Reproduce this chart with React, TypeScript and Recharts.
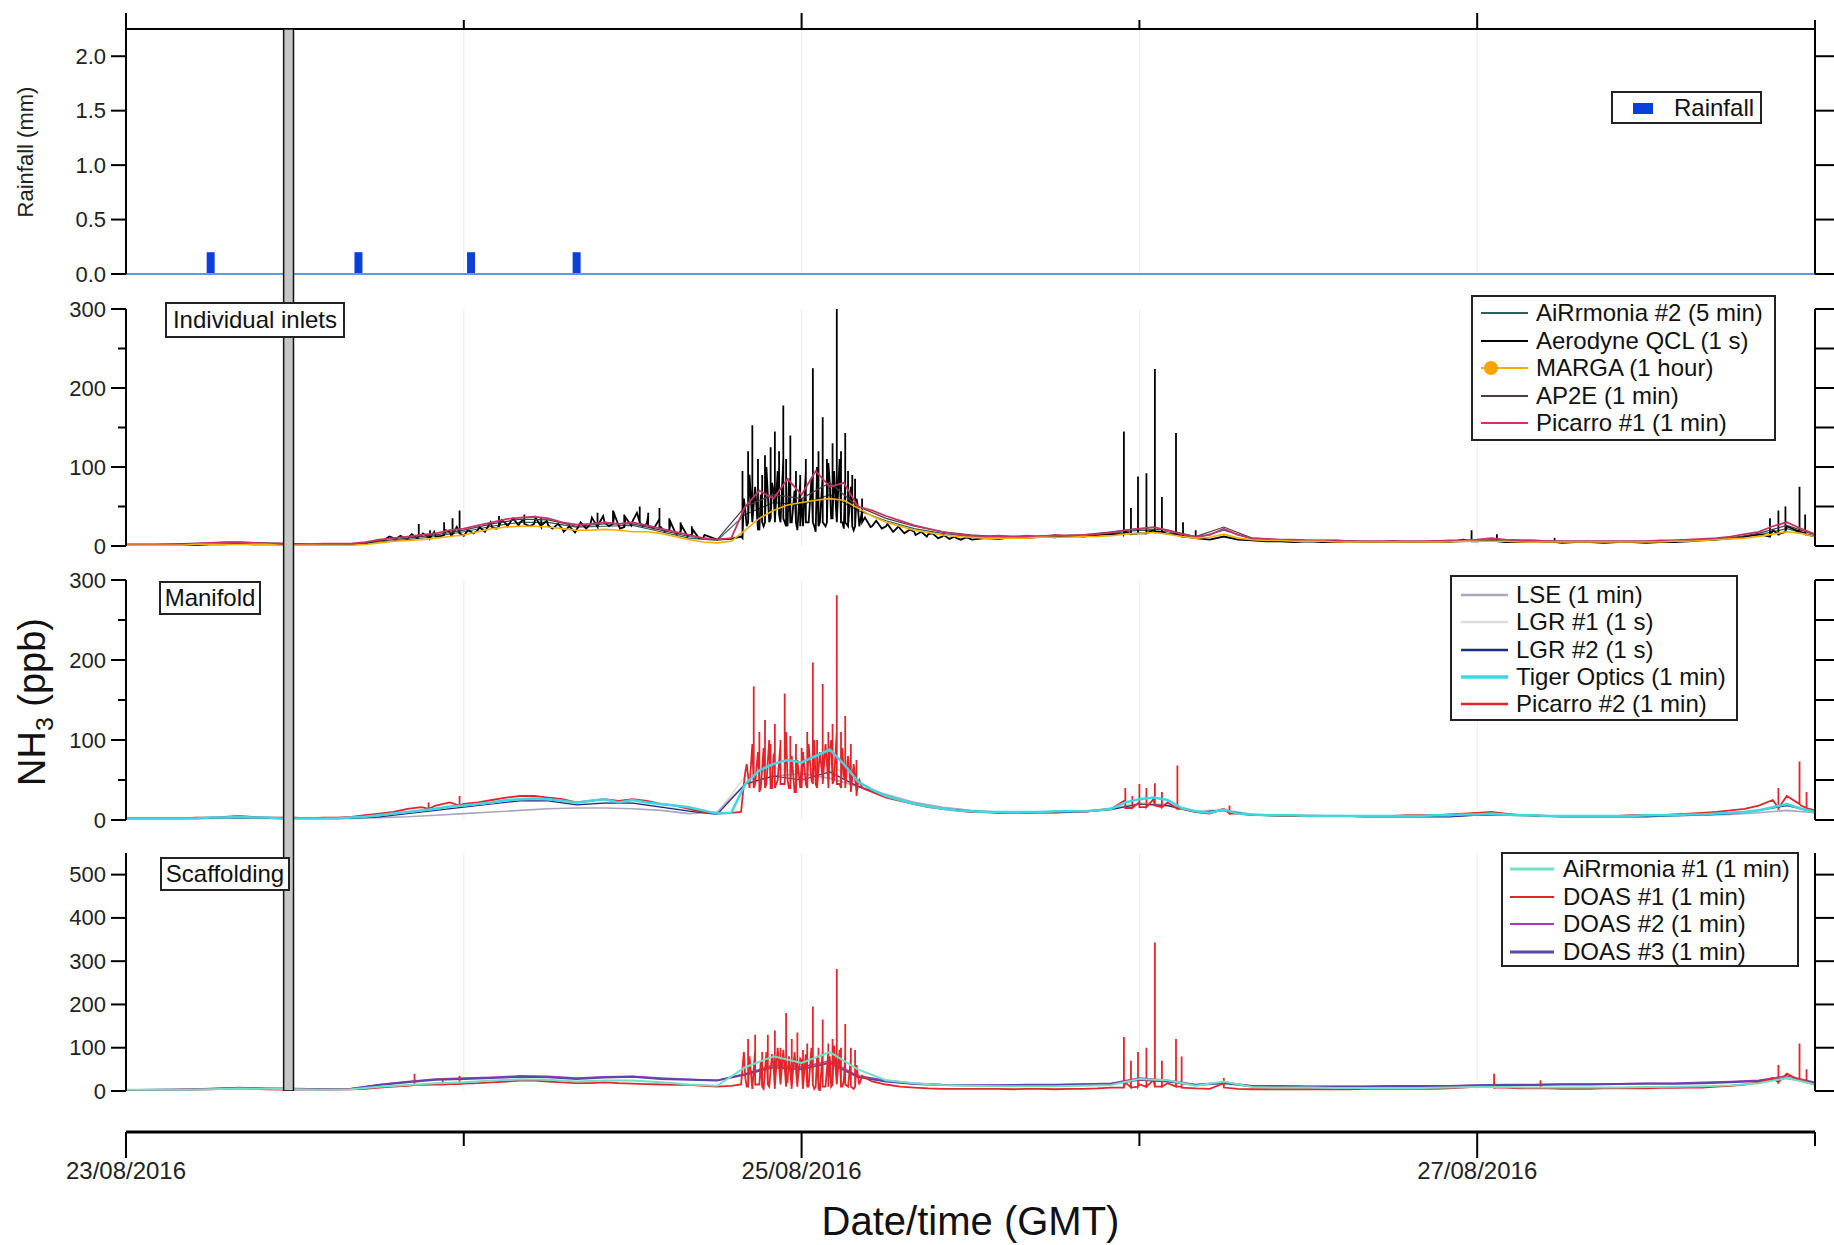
import React from 'react'
import {
  ComposedChart,
  Line,
  Bar,
  XAxis,
  YAxis,
  CartesianGrid,
  ReferenceArea,
  ReferenceLine,
} from 'recharts'

const FONT = '"Liberation Sans", Arial, Helvetica, sans-serif'
const WIDTH = 1834
const LEFT_MARGIN = 66
const AXIS_W = 60
const RIGHT_W = 19

// time axis: hours since 23/08/2016 00:00 GMT
const dayTicks = [0, 24, 48, 72, 96, 120]
const dayLabels = ['23/08/2016', '', '25/08/2016', '', '27/08/2016', '']
const hourly = Array.from({ length: 121 }, (_, i) => i)
const twoHourly = Array.from({ length: 61 }, (_, i) => i * 2)

// rainfall (mm)
const rainHours = [6, 16.5, 24.5, 32]
const rainMm = [0.2, 0.2, 0.2, 0.2]

// grey bar across all panels (hours)
const markedPeriod = [11.2, 11.9]

// ---- Individual inlets (ppb) ----
const aerodyneQcl = [
  1, 1, 1, 1, 1, 1, 2, 2, 3, 2,
  2, 2, 1, 1, 1, 1, 2, 3, 8, 10,
  9, 14, 12, 18, 13, 20, 24, 28, 30, 28,
  26, 22, 20, 28, 30, 26, 32, 28, 24, 18,
  14, 10, 8, 9, 45, 20, 70, 25, 60, 18,
  80, 22, 50, 25, 25, 22, 18, 15, 12, 10,
  9, 10, 9, 11, 10, 12, 11, 13, 12, 14,
  15, 18, 16, 20, 15, 12, 10, 8, 12, 8,
  7, 6, 6, 5, 6, 5, 5, 6, 5, 5,
  6, 5, 5, 6, 5, 8, 6, 7, 5, 5,
  6, 5, 4, 5, 5, 4, 5, 5, 4, 5,
  5, 6, 7, 8, 10, 12, 15, 20, 25, 18,
  12,
]
// fast readings in the busy periods
const aerodyneNoiseA = [
  7, 12, 8, 13, 9, 15, 10, 16, 11, 18,
  12, 20, 13, 24, 14, 20, 16, 24, 18, 30,
  22, 33, 25, 35, 26, 34, 25, 36, 24, 32,
  22, 28, 18, 25, 17, 30, 22, 36, 24, 38,
  25, 40, 22, 36, 26, 42, 25, 38, 22, 34,
  18, 30, 15, 25, 12, 20, 10, 14,
]
const aerodyneBurst = [
  12, 60, 25, 90, 30, 75, 20, 65, 25, 100,
  30, 80, 35, 95, 30, 110, 25, 85, 30, 70,
  20, 80, 25, 95, 30, 85, 25, 100, 30, 90,
  25, 105, 35, 95, 30, 110, 30, 85, 25, 75,
  20, 60, 25, 45,
]
const aerodyneNoiseB = [
  36, 24, 32, 22, 28, 18, 25, 16, 21, 14,
  18, 12, 16, 10, 14, 9, 12, 8, 11, 8,
]
// isolated spikes: [hour, base, peak]
const aerodyneSpikes: [number, number, number][] = [
  [20.8, 12, 28], [21.6, 10, 20], [22.6, 14, 30], [23.2, 15, 35], [23.7, 16, 45],
  [26.5, 25, 38], [28.3, 28, 40], [29.5, 26, 36], [33.5, 25, 42], [34.6, 28, 45],
  [35.4, 24, 40], [36.5, 30, 50], [37.1, 26, 42], [37.9, 24, 48], [38.6, 20, 35],
  [39.4, 18, 30], [40.2, 14, 25],
  [43.8, 10, 95], [44.2, 30, 120], [44.5, 30, 153], [44.9, 25, 110], [45.2, 30, 90],
  [45.4, 30, 115], [45.8, 35, 125], [46.1, 30, 145], [46.4, 40, 120], [46.7, 35, 178],
  [46.9, 30, 110], [47.2, 30, 140], [47.6, 30, 95], [47.9, 25, 90], [48.3, 30, 110],
  [48.8, 30, 225], [49.2, 25, 120], [49.5, 30, 163], [49.8, 30, 110], [50.2, 35, 130],
  [50.5, 30, 300], [50.8, 30, 120], [51.1, 30, 143], [51.3, 25, 95], [51.6, 25, 90],
  [51.8, 25, 85], [52.3, 30, 60],
  [70.9, 15, 145], [71.4, 15, 48], [71.9, 16, 88], [72.5, 16, 92], [73.1, 18, 224],
  [73.6, 18, 62], [74.6, 15, 143], [75.1, 12, 30], [76.0, 10, 20],
  [95.6, 6, 20], [97.4, 6, 15], [101.5, 5, 10],
  [116.8, 12, 35], [117.4, 15, 45], [117.9, 18, 50], [118.9, 18, 75], [119.3, 15, 40],
]
const picarro1 = [
  2, 2, 2, 2, 2, 3, 4, 5, 5, 4,
  3, 3, 2, 2, 3, 3, 3, 5, 8, 10,
  12, 14, 16, 20, 22, 26, 30, 34, 36, 37,
  35, 30, 27, 28, 30, 28, 30, 26, 22, 18,
  14, 10, 8, 10, 50, 70, 60, 85, 65, 95,
  75, 80, 50, 45, 38, 32, 26, 22, 18, 15,
  13, 12, 13, 12, 13, 12, 14, 13, 14, 15,
  17, 20, 22, 24, 20, 15, 12, 14, 22, 14,
  10, 9, 8, 8, 7, 7, 7, 6, 6, 6,
  6, 6, 6, 6, 7, 7, 8, 10, 8, 7,
  7, 6, 6, 6, 6, 6, 6, 6, 6, 7,
  7, 8, 9, 10, 12, 15, 18, 25, 30, 22,
  15,
]
const marga = [
  1, 1, 1, 1, 1, 2, 2, 2, 2, 2,
  2, 1, 1, 1, 1, 1, 1, 2, 4, 6,
  7, 8, 10, 12, 14, 18, 22, 24, 25, 25,
  24, 22, 20, 20, 21, 20, 18, 18, 16, 12,
  8, 5, 4, 6, 20, 35, 45, 52, 55, 58,
  60, 58, 48, 38, 30, 25, 20, 17, 14, 12,
  11, 10, 10, 10, 10, 11, 11, 11, 12, 12,
  13, 15, 16, 17, 15, 12, 10, 11, 15, 10,
  8, 7, 7, 6, 6, 6, 5, 5, 5, 5,
  5, 5, 5, 5, 5, 6, 6, 6, 6, 5,
  5, 5, 5, 5, 5, 5, 5, 5, 5, 5,
  6, 6, 7, 8, 9, 10, 12, 15, 18, 16,
  12,
]
const airrmonia2 = [
  1, 1, 2, 3, 4, 3, 2, 2, 2, 5,
  8, 12, 18, 25, 30, 30, 24, 25, 26, 18,
  10, 7, 40, 55, 52, 65, 45, 32, 22, 16,
  12, 11, 11, 12, 12, 16, 20, 18, 10, 20,
  9, 7, 6, 6, 5, 5, 5, 5, 6, 7,
  6, 5, 5, 5, 5, 6, 7, 9, 14, 22,
  12,
]
const ap2e = [
  2, 2, 3, 4, 5, 4, 3, 2, 3, 6,
  10, 14, 20, 28, 34, 33, 25, 28, 28, 20,
  12, 8, 50, 65, 60, 80, 50, 35, 25, 18,
  14, 12, 12, 13, 14, 18, 22, 20, 12, 24,
  10, 8, 7, 7, 6, 6, 6, 6, 7, 8,
  7, 6, 6, 6, 6, 7, 8, 10, 16, 26,
  14,
]

// ---- Manifold (ppb) ----
const picarro2 = [
  2, 2, 2, 2, 2, 3, 3, 4, 5, 4,
  3, 3, 3, 2, 3, 3, 4, 6, 8, 10,
  14, 16, 18, 22, 20, 22, 25, 28, 30, 30,
  28, 26, 22, 24, 26, 24, 26, 24, 20, 18,
  14, 10, 8, 9, 60, 45, 80, 50, 70, 45,
  85, 55, 45, 35, 28, 24, 20, 16, 14, 12,
  10, 10, 9, 10, 9, 10, 10, 11, 10, 12,
  14, 25, 22, 26, 22, 14, 10, 8, 14, 8,
  6, 6, 5, 5, 5, 5, 5, 5, 5, 5,
  5, 6, 6, 6, 7, 8, 9, 10, 8, 6,
  6, 5, 5, 5, 5, 5, 5, 6, 6, 6,
  7, 8, 9, 10, 12, 14, 18, 25, 30, 18,
  12,
]
const picarro2Burst = [
  10, 45, 70, 40, 95, 45, 85, 40, 90, 45,
  100, 40, 85, 50, 95, 45, 110, 40, 80, 35,
  75, 40, 85, 45, 95, 50, 100, 40, 85, 50,
  95, 45, 100, 50, 110, 45, 90, 50, 80, 40,
  70, 35, 50, 40,
]
const picarro2Spikes: [number, number, number][] = [
  [21.5, 14, 22], [23.7, 18, 30],
  [44.6, 40, 167], [45.0, 35, 110], [45.4, 40, 125], [45.8, 40, 95], [46.1, 40, 120],
  [46.5, 45, 100], [46.8, 45, 158], [47.2, 40, 105], [47.6, 35, 95], [48.0, 40, 90],
  [48.4, 40, 110], [48.8, 45, 197], [49.1, 40, 100], [49.5, 45, 170], [49.9, 40, 110],
  [50.2, 45, 120], [50.5, 45, 281], [50.8, 40, 110], [51.1, 40, 130], [51.5, 35, 95],
  [51.9, 30, 75],
  [71.0, 15, 40], [71.5, 15, 30], [72.0, 16, 45], [72.5, 16, 40], [73.1, 18, 46],
  [73.6, 16, 35], [74.7, 14, 68], [78.4, 8, 18],
  [117.4, 15, 40], [118.9, 20, 73], [119.4, 15, 35],
]
const tigerOptics = [
  2, 2, 2, 2, 2, 2, 3, 3, 4, 3,
  3, 2, 2, 2, 2, 2, 3, 4, 6, 8,
  10, 12, 14, 17, 18, 20, 22, 25, 26, 27,
  26, 24, 22, 24, 26, 22, 25, 22, 20, 18,
  16, 12, 8, 9, 45, 62, 70, 75, 72, 80,
  88, 70, 48, 38, 30, 25, 20, 17, 14, 12,
  11, 10, 10, 10, 10, 10, 11, 11, 11, 12,
  14, 22, 26, 28, 25, 15, 11, 9, 13, 8,
  7, 6, 6, 6, 5, 5, 5, 5, 5, 5,
  5, 5, 5, 6, 6, 7, 7, 8, 7, 6,
  6, 5, 5, 5, 5, 5, 5, 5, 6, 6,
  6, 7, 7, 8, 9, 10, 12, 16, 20, 14,
  10,
]
const lse = [
  2, 2, 2, 2, 3, 2, 2, 2, 2, 3,
  4, 6, 8, 10, 12, 14, 15, 15, 14, 12,
  8, 10, 45, 55, 58, 52, 42, 32, 22, 16,
  12, 10, 10, 10, 11, 14, 20, 18, 10, 12,
  7, 6, 6, 5, 5, 5, 5, 5, 6, 6,
  5, 5, 5, 5, 5, 6, 6, 7, 9, 12,
  9,
]
const lgr1 = [
  3, 3, 3, 3, 4, 3, 3, 3, 3, 5,
  10, 15, 18, 22, 26, 25, 20, 22, 22, 17,
  12, 8, 55, 65, 60, 70, 45, 32, 22, 16,
  12, 10, 10, 10, 11, 15, 22, 20, 11, 14,
  7, 6, 6, 6, 5, 5, 5, 5, 7, 8,
  6, 5, 5, 5, 5, 6, 7, 9, 13, 20,
  11,
]
const lgr2 = [
  2, 2, 2, 2, 3, 2, 2, 2, 2, 4,
  8, 12, 16, 20, 24, 24, 19, 21, 21, 16,
  11, 7, 45, 55, 50, 60, 42, 30, 20, 14,
  11, 9, 9, 9, 10, 13, 20, 18, 10, 12,
  6, 5, 5, 5, 4, 4, 4, 4, 6, 7,
  5, 4, 4, 4, 4, 5, 6, 8, 12, 18,
  10,
]

// ---- Scaffolding (ppb) ----
const doas1 = [
  2, 2, 2, 2, 3, 3, 4, 5, 6, 5,
  4, 3, 3, 3, 3, 3, 4, 5, 8, 10,
  12, 14, 15, 16, 17, 18, 20, 22, 24, 24,
  22, 20, 18, 18, 20, 18, 17, 16, 15, 14,
  14, 12, 10, 12, 30, 15, 60, 20, 70, 10,
  80, 25, 35, 22, 15, 10, 8, 6, 5, 5,
  5, 5, 5, 4, 5, 5, 4, 5, 5, 6,
  8, 20, 15, 25, 18, 10, 6, 5, 18, 5,
  4, 4, 4, 4, 4, 4, 4, 4, 5, 5,
  5, 5, 5, 5, 6, 8, 10, 12, 8, 6,
  6, 6, 5, 5, 5, 6, 6, 6, 6, 7,
  7, 8, 8, 10, 12, 15, 20, 30, 40, 25,
  15,
]
const doas1Burst = [
  15, 90, 10, 80, 5, 95, 15, 70, 5, 90,
  10, 85, 5, 100, 15, 95, 10, 80, 5, 90,
  10, 75, 5, 85, 10, 100, 5, 80, 0, 95,
  10, 90, 10, 105, 15, 95, 10, 85, 10, 75,
  5, 60, 15, 35,
]
const doas1Spikes: [number, number, number][] = [
  [20.5, 14, 40], [22.5, 15, 30], [23.7, 16, 35],
  [44.2, 10, 120], [44.7, 15, 130], [45.2, 10, 90], [45.6, 15, 130], [46.1, 10, 140],
  [46.5, 15, 100], [46.9, 20, 180], [47.3, 10, 120], [47.7, 15, 135], [48.1, 10, 95],
  [48.4, 10, 110], [48.8, 15, 195], [49.2, 5, 100], [49.5, 10, 165], [49.9, 10, 110],
  [50.2, 15, 120], [50.5, 15, 282], [50.8, 10, 100], [51.1, 15, 155], [51.5, 10, 100],
  [51.8, 10, 95],
  [70.9, 8, 125], [71.4, 8, 70], [71.9, 10, 90], [72.5, 10, 100], [73.1, 10, 343],
  [73.6, 10, 70], [74.6, 10, 120], [75.0, 8, 80], [78.0, 8, 30],
  [97.2, 8, 40], [100.5, 6, 25],
  [117.4, 20, 60], [118.9, 25, 110], [119.4, 20, 50],
]
const airrmonia1 = [
  3, 3, 3, 4, 6, 5, 4, 3, 4, 10,
  14, 18, 20, 24, 27, 26, 22, 24, 24, 20,
  15, 12, 55, 80, 65, 90, 50, 25, 18, 14,
  12, 11, 11, 11, 12, 14, 28, 25, 12, 22,
  9, 8, 8, 7, 7, 7, 7, 8, 9, 9,
  8, 8, 8, 8, 9, 10, 11, 13, 18, 30,
  15,
]
const doas2 = [
  3, 3, 4, 5, 8, 6, 5, 4, 5, 15,
  22, 28, 30, 32, 35, 34, 30, 33, 34, 30,
  27, 25, 40, 60, 55, 70, 35, 25, 18, 15,
  14, 14, 15, 15, 16, 18, 30, 25, 15, 20,
  12, 12, 11, 11, 11, 12, 12, 12, 14, 15,
  15, 16, 16, 17, 18, 18, 20, 22, 25, 35,
  20,
]
const doas3 = [
  2, 3, 3, 5, 7, 6, 5, 4, 5, 14,
  20, 26, 28, 30, 33, 32, 28, 31, 33, 28,
  26, 24, 38, 55, 50, 65, 32, 22, 16, 14,
  13, 13, 14, 14, 15, 16, 26, 22, 14, 18,
  11, 11, 10, 10, 10, 11, 11, 11, 13, 14,
  14, 15, 15, 16, 17, 17, 18, 20, 23, 30,
  18,
]

const COLORS = {
  rain: '#0b3fd9',
  rainLine: '#5b9be0',
  airrmonia2: '#2c5f5d',
  aerodyne: '#000000',
  marga: '#f2b000',
  margaDot: '#f5a300',
  ap2e: '#4a3a4a',
  picarro1: '#c8346a',
  lse: '#a9a6bd',
  lgr1: '#dcdcdc',
  lgr2: '#1c2a8a',
  tiger: '#3fd6e0',
  picarro2: '#e3242b',
  airrmonia1: '#72e0c4',
  doas1: '#e3262a',
  doas2: '#a43cc0',
  doas3: '#5a46a8',
}

type Pt = { t: number; v: number }
type Burst = [number, number, number[]]

const toPoints = (times: number[], values: number[]): Pt[] =>
  times.map((t, i) => ({ t, v: values[i] }))

// merge the hourly base with faster readings and isolated spikes
const merged = (times: number[], values: number[], bursts: Burst[], spikes: [number, number, number][]) => {
  const pts = toPoints(times, values)
  bursts.forEach(([start, step, vals]) =>
    vals.forEach((v, i) => pts.push({ t: +(start + i * step).toFixed(2), v })))
  spikes.forEach(([t, lo, hi]) => pts.push({ t, v: lo }, { t, v: hi }, { t, v: lo }))
  return pts.sort((a, b) => a.t - b.t)
}

const rainData = toPoints(rainHours, rainMm)

const leftTick = (majorEvery: number, fmt: (v: number) => string) => (p: any) => {
  const v = p.payload.value
  const q = v / majorEvery
  const major = Math.abs(q - Math.round(q)) < 1e-6
  const len = major ? 15 : 8
  return (
    <g>
      <line x1={p.x - len} x2={p.x} y1={p.y} y2={p.y} stroke="#000" strokeWidth={2} />
      {major && (
        <text x={p.x - 20} y={p.y} textAnchor="end" dominantBaseline="central"
          fontSize={22} fontFamily={FONT} fill="#222">
          {fmt(v)}
        </text>
      )}
    </g>
  )
}

const rightTick = (p: any) => (
  <line x1={p.x} x2={p.x + RIGHT_W} y1={p.y} y2={p.y} stroke="#000" strokeWidth={2} />
)

const isMajorDay = (v: number) => v % 48 === 0

const topTick = (p: any) => (
  <line x1={p.x} x2={p.x} y1={p.y} y2={p.y - (isMajorDay(p.payload.value) ? 16 : 9)}
    stroke="#000" strokeWidth={2} />
)

const bottomTick = (p: any) => {
  const v = p.payload.value
  const label = dayLabels[dayTicks.indexOf(v)]
  return (
    <g>
      <line x1={p.x} x2={p.x} y1={p.y} y2={p.y + (isMajorDay(v) ? 26 : 14)} stroke="#000" strokeWidth={2} />
      {label && (
        <text x={p.x} y={p.y + 38} textAnchor="middle" dominantBaseline="central"
          fontSize={24} fontFamily={FONT} fill="#222">
          {label}
        </text>
      )}
    </g>
  )
}

function Panel({ top, bottom, domain, ticks, majorEvery, fmt, rightTicks, data, topAxis, children }: any) {
  const pad = 30
  const axisH = topAxis ? 22 : 0
  const h = bottom - top + 2 * pad
  return (
    <div style={{ position: 'absolute', left: 0, top: top - pad }}>
      <ComposedChart width={WIDTH} height={h} data={data}
        margin={{ top: pad - axisH, right: 0, bottom: pad, left: LEFT_MARGIN }}>
        <CartesianGrid horizontal={false} stroke="#ececec" />
        <XAxis type="number" dataKey="t" domain={[0, 120]} ticks={dayTicks} interval={0}
          allowDataOverflow orientation="top" hide={!topAxis} height={topAxis ? axisH : undefined}
          tickSize={0} tickMargin={0} tickLine={false} tick={topTick}
          axisLine={{ stroke: '#000', strokeWidth: 2 }} />
        <YAxis domain={domain} ticks={ticks} interval={0} allowDataOverflow width={AXIS_W}
          tickSize={0} tickMargin={0} tickLine={false} tick={leftTick(majorEvery, fmt)}
          axisLine={{ stroke: '#000', strokeWidth: 2 }} />
        <YAxis yAxisId="r" orientation="right" domain={domain} ticks={rightTicks} interval={0}
          allowDataOverflow width={RIGHT_W} tickSize={0} tickMargin={0} tickLine={false}
          tick={rightTick} axisLine={{ stroke: '#000', strokeWidth: 2 }} />
        {children}
      </ComposedChart>
    </div>
  )
}

function LegendBox({ left, top, width, height, items, firstRow, rowGap, sampleLeft, sampleWidth, textLeft }: any) {
  return (
    <div style={{
      position: 'absolute', left, top, width, height, border: '2px solid #222',
      background: '#fff', boxSizing: 'border-box', fontFamily: FONT, fontSize: 24, color: '#111',
    }}>
      {items.map((it: any, i: number) => (
        <div key={it.name} style={{ position: 'absolute', left: 0, top: firstRow + i * rowGap - 16, height: 32, width: '100%' }}>
          <svg width={sampleWidth} height={32} style={{ position: 'absolute', left: sampleLeft, top: 0 }}>
            <line x1={0} x2={sampleWidth} y1={16} y2={16} stroke={it.color} strokeWidth={it.w} />
            {it.dot && <circle cx={10} cy={16} r={7} fill={it.dot} />}
          </svg>
          <span style={{ position: 'absolute', left: textLeft, top: 0, lineHeight: '32px', whiteSpace: 'nowrap' }}>
            {it.name}
          </span>
        </div>
      ))}
    </div>
  )
}

function TagBox({ left, top, width, height, text }: any) {
  return (
    <div style={{
      position: 'absolute', left, top, width, height, border: '2px solid #222', background: '#fff',
      boxSizing: 'border-box', fontFamily: FONT, fontSize: 24, color: '#111', textAlign: 'center',
      lineHeight: `${height - 4}px`, whiteSpace: 'nowrap',
    }}>
      {text}
    </div>
  )
}

const inletsLegend = [
  { name: 'AiRrmonia #2 (5 min)', color: COLORS.airrmonia2, w: 2 },
  { name: 'Aerodyne QCL (1 s)', color: COLORS.aerodyne, w: 2 },
  { name: 'MARGA (1 hour)', color: COLORS.marga, w: 2, dot: COLORS.margaDot },
  { name: 'AP2E (1 min)', color: COLORS.ap2e, w: 2 },
  { name: 'Picarro #1 (1 min)', color: COLORS.picarro1, w: 2 },
]
const manifoldLegend = [
  { name: 'LSE (1 min)', color: COLORS.lse, w: 2.5 },
  { name: 'LGR #1 (1 s)', color: COLORS.lgr1, w: 2.5 },
  { name: 'LGR #2 (1 s)', color: COLORS.lgr2, w: 2.5 },
  { name: 'Tiger Optics (1 min)', color: COLORS.tiger, w: 3.5 },
  { name: 'Picarro #2 (1 min)', color: COLORS.picarro2, w: 2.5 },
]
const scaffoldLegend = [
  { name: 'AiRrmonia #1 (1 min)', color: COLORS.airrmonia1, w: 3 },
  { name: 'DOAS #1 (1 min)', color: COLORS.doas1, w: 2 },
  { name: 'DOAS #2 (1 min)', color: COLORS.doas2, w: 2 },
  { name: 'DOAS #3 (1 min)', color: COLORS.doas3, w: 3 },
]

const ppbTicks = [0, 50, 100, 150, 200, 250, 300]
const scaffoldTicks = [0, 100, 200, 300, 400, 500]
const rainTicks = [0, 0.5, 1, 1.5, 2]
const intFmt = (v: number) => String(v)

const series = (data: Pt[], color: string, width: number) => (
  <Line data={data} dataKey="v" type="linear" stroke={color} strokeWidth={width}
    dot={false} isAnimationActive={false} />
)

const aerodyneData = merged(hourly, aerodyneQcl, [
  [18.3, 0.4, aerodyneNoiseA],
  [43.7, 0.2, aerodyneBurst],
  [52.5, 0.4, aerodyneNoiseB],
], aerodyneSpikes)
const picarro2Data = merged(hourly, picarro2, [[43.7, 0.2, picarro2Burst]], picarro2Spikes)
const doas1Data = merged(hourly, doas1, [[43.7, 0.2, doas1Burst]], doas1Spikes)

export default function App() {
  return (
    <div style={{ position: 'absolute', left: 0, top: 0, width: WIDTH, height: 1245, background: '#fff', overflow: 'hidden' }}>
      <Panel top={29} bottom={274} domain={[0, 2.25]} ticks={rainTicks} majorEvery={0.5}
        fmt={(v: number) => v.toFixed(1)} rightTicks={rainTicks} data={rainData} topAxis>
        <ReferenceLine y={0} stroke={COLORS.rainLine} strokeWidth={2} />
        <Bar dataKey="v" fill={COLORS.rain} barSize={8} isAnimationActive={false} />
      </Panel>

      <Panel top={309} bottom={546} domain={[0, 300]} ticks={ppbTicks} majorEvery={100}
        fmt={intFmt} rightTicks={ppbTicks}>
        {series(toPoints(twoHourly, airrmonia2), COLORS.airrmonia2, 1.2)}
        {series(aerodyneData, COLORS.aerodyne, 1.8)}
        {series(toPoints(twoHourly, ap2e), COLORS.ap2e, 1.2)}
        {series(toPoints(hourly, picarro1), COLORS.picarro1, 1.8)}
        {series(toPoints(hourly, marga), COLORS.marga, 1.6)}
      </Panel>

      <Panel top={580} bottom={820} domain={[0, 300]} ticks={ppbTicks} majorEvery={100}
        fmt={intFmt} rightTicks={ppbTicks}>
        {series(toPoints(twoHourly, lgr1), COLORS.lgr1, 1.5)}
        {series(toPoints(twoHourly, lse), COLORS.lse, 1.6)}
        {series(toPoints(twoHourly, lgr2), COLORS.lgr2, 1.2)}
        {series(picarro2Data, COLORS.picarro2, 1.8)}
        {series(toPoints(hourly, tigerOptics), COLORS.tiger, 2.5)}
      </Panel>

      <Panel top={853} bottom={1091} domain={[0, 550]} ticks={scaffoldTicks} majorEvery={100}
        fmt={intFmt} rightTicks={scaffoldTicks}>
        {series(toPoints(twoHourly, doas2), COLORS.doas2, 1.5)}
        {series(toPoints(twoHourly, doas3), COLORS.doas3, 2)}
        {series(doas1Data, COLORS.doas1, 1.8)}
        {series(toPoints(twoHourly, airrmonia1), COLORS.airrmonia1, 2)}
      </Panel>

      {/* grey bar through all panels */}
      <div style={{ position: 'absolute', left: 0, top: 29 }}>
        <ComposedChart width={WIDTH} height={1091 - 29} data={rainData}
          margin={{ top: 0, right: RIGHT_W, bottom: 0, left: LEFT_MARGIN + AXIS_W }}>
          <XAxis type="number" dataKey="t" domain={[0, 120]} allowDataOverflow hide />
          <YAxis domain={[0, 1]} allowDataOverflow hide />
          <ReferenceArea x1={markedPeriod[0]} x2={markedPeriod[1]} fill="#c6c6c6" fillOpacity={1}
            stroke="#111" strokeWidth={1.5} />
        </ComposedChart>
      </div>

      {/* bottom time axis */}
      <div style={{ position: 'absolute', left: 0, top: 1132 - 10 }}>
        <ComposedChart width={WIDTH} height={10 + 113} data={rainData}
          margin={{ top: 0, right: RIGHT_W, bottom: 0, left: LEFT_MARGIN + AXIS_W }}>
          <XAxis type="number" dataKey="t" domain={[0, 120]} ticks={dayTicks} interval={0}
            allowDataOverflow height={113} tickSize={0} tickMargin={0} tickLine={false}
            tick={bottomTick} axisLine={{ stroke: '#000', strokeWidth: 3 }}
            label={{ value: 'Date/time (GMT)', position: 'insideBottom', offset: 10, fontSize: 40, fontFamily: FONT, fill: '#111' }} />
          <YAxis domain={[0, 1]} hide />
        </ComposedChart>
      </div>

      {/* axis titles */}
      <div style={{
        position: 'absolute', left: 26, top: 152, transform: 'translate(-50%, -50%) rotate(-90deg)',
        whiteSpace: 'nowrap', fontFamily: FONT, fontSize: 22, color: '#222',
      }}>
        Rainfall (mm)
      </div>
      <div style={{
        position: 'absolute', left: 35, top: 702, transform: 'translate(-50%, -50%) rotate(-90deg)',
        whiteSpace: 'nowrap', fontFamily: FONT, fontSize: 38, color: '#111',
      }}>
        NH<sub style={{ fontSize: '0.65em' }}>3</sub> (ppb)
      </div>

      {/* panel tags */}
      <TagBox left={165} top={302} width={180} height={36} text="Individual inlets" />
      <TagBox left={159} top={581} width={102} height={34} text="Manifold" />
      <TagBox left={160} top={857} width={130} height={34} text="Scaffolding" />

      {/* legends */}
      <div style={{
        position: 'absolute', left: 1611, top: 91, width: 151, height: 33, border: '2px solid #222',
        background: '#fff', boxSizing: 'border-box', fontFamily: FONT, fontSize: 24, color: '#111',
      }}>
        <div style={{ position: 'absolute', left: 20, top: 10, width: 20, height: 11, background: COLORS.rain }} />
        <span style={{ position: 'absolute', left: 61, top: 0, lineHeight: '29px' }}>Rainfall</span>
      </div>
      <LegendBox left={1471} top={295} width={305} height={146} items={inletsLegend}
        firstRow={16} rowGap={27.5} sampleLeft={8} sampleWidth={47} textLeft={63} />
      <LegendBox left={1450} top={575} width={288} height={146} items={manifoldLegend}
        firstRow={18} rowGap={27.3} sampleLeft={9} sampleWidth={47} textLeft={64} />
      <LegendBox left={1501} top={852} width={298} height={115} items={scaffoldLegend}
        firstRow={15} rowGap={27.7} sampleLeft={7} sampleWidth={44} textLeft={60} />
    </div>
  )
}
